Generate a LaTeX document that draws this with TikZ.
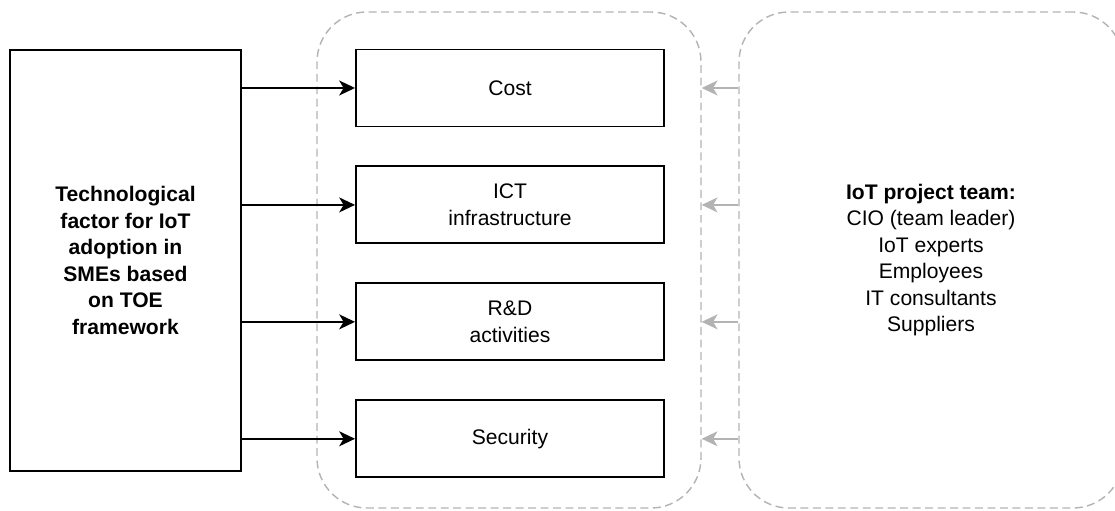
\documentclass[tikz,border=0pt]{standalone}
\usepackage{fontspec}
\setmainfont{Liberation Sans}
\usepackage{tikz}
\usetikzlibrary{arrows.meta, positioning}
\definecolor{mydark}{RGB}{0,0,0}
\definecolor{mygrey}{RGB}{179,179,179}
\tikzset{
  techbox/.style={rectangle, draw=mydark, fill=white,
    minimum width=4.62cm, minimum height=8.42cm, align=center,
    font=\fontsize{12}{15.1}\selectfont\bfseries, line width=1.1pt},
  factorbox/.style={rectangle, draw=mydark, fill=white,
    minimum width=6.16cm, minimum height=1.54cm, align=center,
    font=\fontsize{12}{15.1}\selectfont, line width=1.1pt},
  groupbox/.style={rectangle, draw=mygrey, dash pattern=on 4.5pt off 2.6pt,
    minimum width=7.68cm, minimum height=9.92cm, align=center,
    font=\fontsize{12}{15.1}\selectfont, rounded corners=1cm, line width=0.8pt},
  arrow/.style={-{Stealth[length=9pt, width=8.5pt, inset=2.5pt]}, line width=1.1pt, color=mydark},
  greyarrow/.style={-{Stealth[length=9pt, width=8.5pt, inset=2.5pt]}, line width=0.9pt, color=mygrey}
}

\begin{document}
\begin{tikzpicture}
  \useasboundingbox (0,0) rectangle (22.3,10.22);
  \clip (0,0) rectangle (22.3,10.22);

  % Dashed groups
  \node[groupbox] (stackgroup) at (10.18,5.02) {};
  \node[groupbox] (teamgroup) at (18.62,5.02) {\textbf{IoT project team:}\\CIO (team leader)\\IoT experts\\Employees\\IT consultants\\Suppliers};

  % Left box
  \node[techbox] (tech) at (2.51,5.01) {Technological\\factor for IoT\\adoption in\\SMEs based\\on TOE\\framework};

  % Technological factors
  \node[factorbox] (cost) at (10.2,8.46) {Cost};
  \node[factorbox, below=0.76cm of cost] (ict) {ICT\\infrastructure};
  \node[factorbox, below=0.76cm of ict] (rnd) {R\&D\\activities};
  \node[factorbox, below=0.76cm of rnd] (security) {Security};

  % Arrows
  \foreach \f in {cost, ict, rnd, security} {
    \draw[arrow] (tech.east |- \f) -- (\f.west);
    \draw[greyarrow] (teamgroup.west |- \f) -- (stackgroup.east |- \f);
  }
\end{tikzpicture}
\end{document}
